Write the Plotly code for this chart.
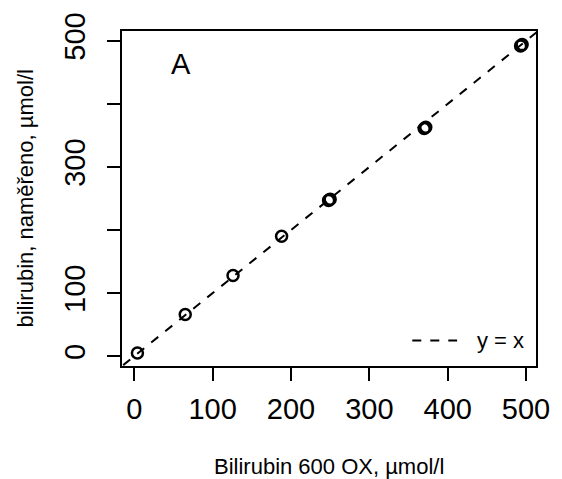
import plotly.graph_objects as go

# Measured bilirubin vs. reference analyser (µmol/l)
ref_ox = [4, 65, 126, 188, 248, 250, 370, 372, 493, 495]
measured = [5, 66, 128, 190, 247, 249, 361, 363, 492, 494]

# identity line y = x
ident = [-50, 600]

x_ticks = [0, 100, 200, 300, 400, 500]
x_ticktext = ["0", "100", "200", "300", "400", "500"]
y_ticks = [0, 100, 200, 300, 400, 500]
y_ticktext = ["0", "100", "", "300", "", "500"]

FONT = "Liberation Sans, Arial, Helvetica, sans-serif"
DASH = "9px,9px"

# plot-area geometry in pixels
W, H = 562, 479
L, R, T, B = 122, 15, 25, 113
PW, PH = W - L - R, H - T - B


def px(xp):
    return (xp - L) / PW


def py(yp):
    return (H - B - yp) / PH


fig = go.Figure()
fig.add_trace(go.Scatter(
    x=ident, y=ident, mode="lines", name="y = x",
    line=dict(color="black", width=2, dash=DASH),
    showlegend=False,
))
fig.add_trace(go.Scatter(
    x=ref_ox, y=measured, mode="markers", showlegend=False,
    marker=dict(symbol="circle-open", size=11, color="black",
                line=dict(width=2.5, color="black")),
))

fig.update_layout(
    width=W, height=H,
    margin=dict(l=L, r=R, t=T, b=B),
    paper_bgcolor="white", plot_bgcolor="white",
    font=dict(family=FONT, color="black"),
    showlegend=False,
    xaxis=dict(range=[-15.7, 512.7], tickvals=x_ticks, ticktext=x_ticktext,
               showgrid=False, zeroline=False, showline=True, mirror=True,
               linecolor="black", linewidth=2, ticks="outside", ticklen=13,
               tickwidth=2, tickcolor="black", ticklabelstandoff=3,
               tickfont=dict(size=29, family=FONT)),
    yaxis=dict(range=[-15.6, 515.6], tickvals=y_ticks, ticktext=y_ticktext,
               showgrid=False, zeroline=False, showline=True, mirror=True,
               linecolor="black", linewidth=2, ticks="outside", ticklen=13,
               tickwidth=2, tickcolor="black", tickangle=-90,
               ticklabelstandoff=10,
               tickfont=dict(size=29, family=FONT)),
    shapes=[
        # legend key for the identity line
        dict(type="line", xref="paper", yref="paper",
             x0=px(420), x1=px(466), y0=py(340), y1=py(340),
             line=dict(color="black", width=2, dash=DASH)),
    ],
    annotations=[
        dict(text="y = x", xref="paper", yref="paper",
             x=px(484), y=py(340), xanchor="left", yanchor="middle",
             showarrow=False, font=dict(size=22, family=FONT)),
        dict(text="Bilirubin 600 OX, µmol/l", xref="paper", yref="paper",
             x=px(334), y=py(468), xanchor="center", yanchor="middle",
             showarrow=False, font=dict(size=22, family=FONT)),
        dict(text="bilirubin, naměřeno, µmol/l", xref="paper", yref="paper",
             x=px(23), y=py(196), xanchor="center", yanchor="middle",
             textangle=-90, showarrow=False, font=dict(size=22, family=FONT)),
        dict(text="A", xref="paper", yref="paper",
             x=px(183), y=py(59), xanchor="center", yanchor="middle",
             showarrow=False, font=dict(size=29, family=FONT)),
    ],
)

fig.write_html("out.html")
